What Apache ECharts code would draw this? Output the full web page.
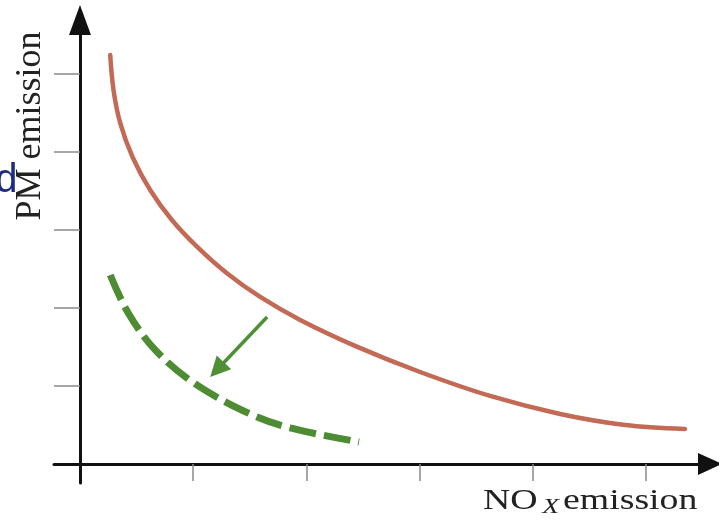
<!DOCTYPE html>
<html>
<head>
<meta charset="utf-8">
<script src="https://cdn.jsdelivr.net/npm/echarts@6/dist/echarts.min.js"></script>
<style>
  html, body { margin: 0; padding: 0; background: #ffffff; }
  #chart { width: 719px; height: 524px; }
</style>
</head>
<body>
<div id="chart"></div>
<script>
// Tick positions on both axes (no labels are shown)
const xTicks = [1, 2, 3, 4, 5];
const yTicks = [1, 2, 3, 4, 5];

// Current trade-off curve (solid)
const tradeoffCurve = [
  [0.267, 5.244], [0.296, 4.795], [0.355, 4.372], [0.466, 3.929], [0.620, 3.513],
  [0.812, 3.128], [1.033, 2.786], [1.298, 2.445], [1.592, 2.141], [1.945, 1.846],
  [2.445, 1.504], [3.004, 1.179], [3.623, 0.872], [4.241, 0.641], [4.815, 0.500],
  [5.344, 0.449]
];

// Improved trade-off curve (dashed)
const improvedCurve = [
  [0.267, 2.423], [0.426, 1.936], [0.664, 1.462], [1.018, 1.026],
  [1.503, 0.641], [1.857, 0.462], [2.465, 0.282]
];

// Shift arrow from solid curve towards dashed curve
const shiftArrow = [[1.653, 1.885], [1.211, 1.208]];

const yTitle = 'PM emission';
const xTitleMain = 'NO';
const xTitleSub = 'X';
const xTitleRest = 'emission';
const cutText = 'd';

const chart = echarts.init(document.getElementById('chart'), null, { renderer: 'canvas' });

const serif = '"Liberation Serif", "Times New Roman", serif';

chart.setOption({
  animation: false,
  backgroundColor: '#ffffff',
  grid: { left: 54, right: 9, top: 20, bottom: 41, containLabel: false, outerBoundsMode: 'none' },
  xAxis: {
    type: 'value',
    min: -0.2296,
    max: 5.565,
    axisLine: {
      show: true, onZero: true,
      symbol: ['none', 'triangle'], symbolSize: [22, 24],
      lineStyle: { color: '#111111', width: 3 }
    },
    axisTick: { show: true, customValues: xTicks, length: 17, lineStyle: { color: '#8a8a8a', width: 1.5 } },
    axisLabel: { show: false },
    splitLine: { show: false }
  },
  yAxis: {
    type: 'value',
    min: -0.244,
    max: 5.692,
    axisLine: {
      show: true, onZero: true,
      symbol: ['none', 'triangle'], symbolSize: [22, 30],
      lineStyle: { color: '#111111', width: 3 }
    },
    axisTick: { show: true, customValues: yTicks, length: 26, lineStyle: { color: '#8a8a8a', width: 1.5 } },
    axisLabel: { show: false },
    splitLine: { show: false }
  },
  series: [
    {
      type: 'line',
      data: tradeoffCurve,
      smooth: 0.35,
      symbol: 'none',
      lineStyle: { color: '#c26a55', width: 4.5, cap: 'round' }
    },
    {
      type: 'line',
      data: improvedCurve,
      smooth: 0.35,
      symbol: 'none',
      lineStyle: { color: '#4d8c32', width: 7, type: [27, 8], cap: 'butt' }
    },
    {
      type: 'lines',
      coordinateSystem: 'cartesian2d',
      polyline: false,
      symbol: ['none', 'triangle'],
      symbolSize: [16, 20],
      lineStyle: { color: '#4f8f36', width: 3.5, opacity: 1 },
      data: [{ coords: shiftArrow }]
    }
  ],
  graphic: [
    {
      type: 'text',
      x: 31, y: 126,
      rotation: Math.PI / 2,
      style: {
        text: yTitle, fontSize: 36, fontFamily: serif, fill: '#222222',
        align: 'center', verticalAlign: 'middle'
      }
    },
    {
      type: 'group',
      x: 483, y: 0,
      scaleX: 1.26,
      children: [
        { type: 'text', x: 0, y: 501, style: { text: xTitleMain, fontSize: 30, fontFamily: serif, fill: '#222222', align: 'left', verticalAlign: 'middle' } },
        { type: 'text', x: 47, y: 507, style: { text: xTitleSub, fontSize: 22, fontStyle: 'italic', fontFamily: serif, fill: '#222222', align: 'left', verticalAlign: 'middle' } },
        { type: 'text', x: 63.5, y: 501, style: { text: xTitleRest, fontSize: 30, fontFamily: serif, fill: '#222222', align: 'left', verticalAlign: 'middle' } }
      ]
    },
    {
      type: 'text',
      x: 17.5, y: 181,
      style: {
        text: cutText, fontSize: 40, fontFamily: '"Liberation Sans", Arial, sans-serif', fill: '#1b2d7e',
        align: 'right', verticalAlign: 'middle'
      }
    }
  ]
});
</script>
</body>
</html>
